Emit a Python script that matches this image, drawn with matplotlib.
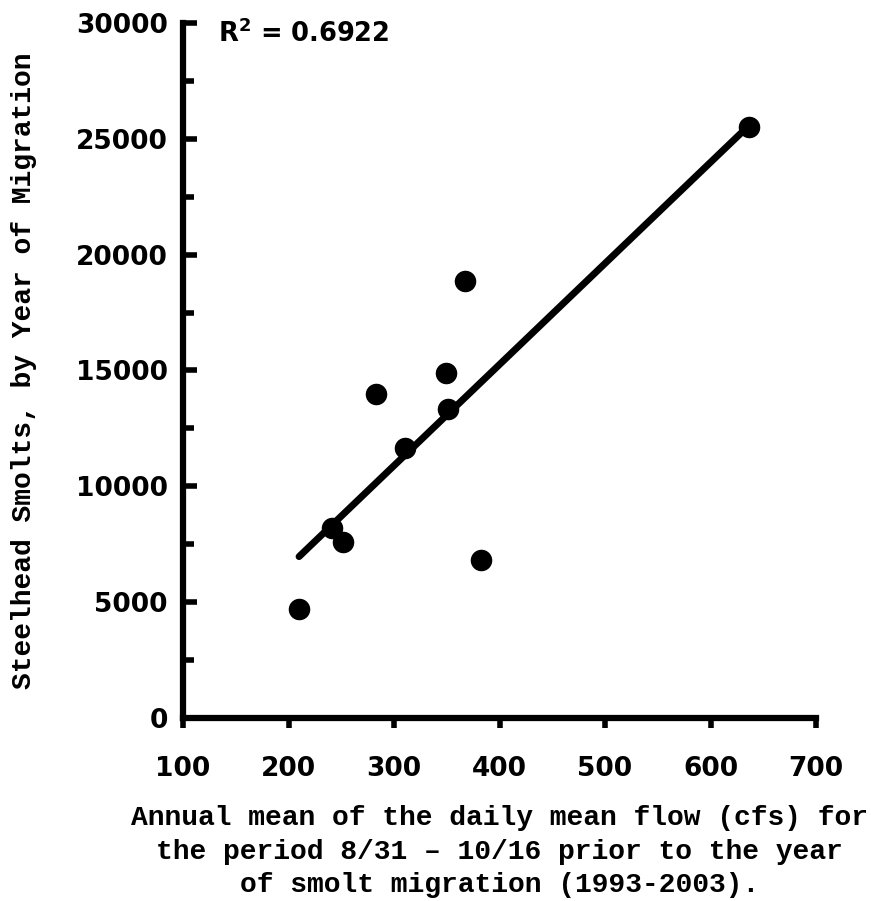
import matplotlib.pyplot as plt
import numpy as np
from matplotlib.ticker import MultipleLocator

# mean flow (cfs) vs steelhead smolts
flow = [210, 241, 252, 283, 310, 349, 351, 367, 382, 636]
smolts = [4700, 8200, 7600, 14000, 11650, 14900, 13350, 18850, 6820, 25500]
r2_text = "R$^{\\mathbf{2}}$ = 0.6922"

x_ticks = [100, 200, 300, 400, 500, 600, 700]
y_ticks = [0, 5000, 10000, 15000, 20000, 25000, 30000]

fig = plt.figure(figsize=(8.71, 9.01), dpi=100)
ax = fig.add_axes([0.2101, 0.2031, 0.7268, 0.7714])

# least squares fit over the data range
slope, intercept = np.polyfit(flow, smolts, 1)
xfit = np.array([min(flow), max(flow)])
ax.plot(xfit, slope * xfit + intercept, color='black', lw=5, solid_capstyle='round', zorder=2)
ax.scatter(flow, smolts, s=210, color='black', zorder=3, clip_on=False)

ax.set_xlim(100, 700)
ax.set_ylim(0, 30000)
ax.set_xticks(x_ticks)
ax.set_yticks(y_ticks)
ax.yaxis.set_minor_locator(MultipleLocator(2500))

for s in ['top', 'right']:
    ax.spines[s].set_visible(False)
for s in ['left', 'bottom']:
    ax.spines[s].set_linewidth(4.5)

ax.tick_params(axis='x', direction='out', length=7, width=4, pad=20, labelsize=19)
ax.tick_params(axis='y', which='major', direction='in', length=10, width=4, pad=11, labelsize=19)
ax.tick_params(axis='y', which='minor', direction='in', length=8, width=4)
for lab in ax.get_xticklabels() + ax.get_yticklabels():
    lab.set_fontweight('bold')

ax.text(0.055, 0.985, r2_text, transform=ax.transAxes, fontsize=18.5, fontweight='bold',
        ha='left', va='center')

ax.set_ylabel('Steelhead Smolts, by Year of Migration', family='Liberation Mono',
              fontweight='bold', fontsize=20.2, labelpad=28)
ax.set_xlabel('Annual mean of the daily mean flow (cfs) for\n'
              'the period 8/31 \u2013 10/16 prior to the year\n'
              'of smolt migration (1993-2003).', family='Liberation Mono',
              fontweight='bold', fontsize=20.2, labelpad=17, linespacing=1.38)

plt.savefig('out.png', dpi=100)
